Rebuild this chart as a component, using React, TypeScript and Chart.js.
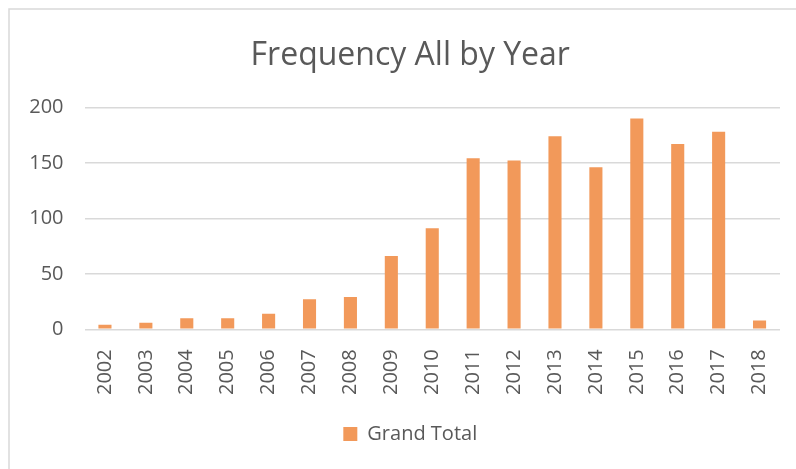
import React, { useEffect, useRef } from "react";
import { Chart, registerables } from "chart.js";

Chart.register(...registerables);

const years = ["2002","2003","2004","2005","2006","2007","2008","2009","2010","2011","2012","2013","2014","2015","2016","2017","2018"];
const grandTotal = [4, 6, 10, 10, 14, 27, 29, 66, 91, 154, 152, 174, 146, 190, 167, 178, 8];
const yTicks = [0, 50, 100, 150, 200];

const FONT = "'Open Sans', 'DejaVu Sans', sans-serif";
const TEXT = "#595959";
const GRID = "#d9d9d9";
const BAR = "#F2995A";

const borderPlugin = {
  id: "outerBorder",
  afterLayout(chart: any) {
    const y = chart.scales.y;
    if (y) {
      y.left = 0;
      y.width = y.right;
    }
  },
  beforeDraw(chart: any) {
    const ctx = chart.ctx;
    ctx.save();
    ctx.fillStyle = "#ffffff";
    ctx.fillRect(0, 0, chart.width, chart.height);
    ctx.strokeStyle = GRID;
    ctx.lineWidth = 1.5;
    ctx.strokeRect(9, 9, chart.width + 50, chart.height + 50);
    ctx.restore();
  },
};

export default function App() {
  const ref = useRef<HTMLCanvasElement | null>(null);
  useEffect(() => {
    if (!ref.current) return;
    const chart = new Chart(ref.current, {
      type: "bar",
      data: {
        labels: years,
        datasets: [
          {
            label: "Grand Total",
            data: grandTotal,
            backgroundColor: BAR,
            borderWidth: 0,
            categoryPercentage: 1,
            barPercentage: 0.32,
          },
        ],
      },
      plugins: [borderPlugin],
      options: {
        animation: false,
        responsive: false,
        maintainAspectRatio: false,
        layout: { padding: { top: 0, left: 40, right: 15.5, bottom: 15 } },
        plugins: {
          title: {
            display: true,
            text: "Frequency All by Year",
            color: TEXT,
            font: { family: FONT, size: 32, weight: "normal" as any, lineHeight: 1.2 },
            padding: { top: 36.7, bottom: 32.2 },
          },
          legend: {
            display: true,
            position: "bottom",
            labels: {
              color: TEXT,
              font: { family: FONT, size: 20 },
              boxWidth: 14,
              boxHeight: 14,
              padding: 10,
            },
          },
          tooltip: { enabled: false },
        },
        scales: {
          x: {
            grid: { display: false },
            border: { display: false },
            ticks: {
              color: TEXT,
              font: { family: FONT, size: 20 },
              minRotation: 90,
              maxRotation: 90,
              autoSkip: false,
              padding: 12,
            },
            afterFit(scale: any) {
              scale.height = 84.7;
            },
          },
          y: {
            min: 0,
            max: 200,
            afterBuildTicks(scale: any) {
              scale.ticks = yTicks.map((v) => ({ value: v }));
            },
            grid: { color: GRID, lineWidth: 1.5, drawTicks: false },
            border: { display: false },
            ticks: {
              color: TEXT,
              font: { family: FONT, size: 20 },
              padding: 21,
            },
            afterFit(scale: any) {
              scale.width = 44.5;
            },
          },
        },
      },
    });
    return () => chart.destroy();
  }, []);
  return (
    <div style={{ position: "absolute", left: 0, top: 0, width: 796, height: 469, background: "#fff" }}>
      <canvas ref={ref} width={796} height={469} style={{ width: 796, height: 469 }} />
    </div>
  );
}
